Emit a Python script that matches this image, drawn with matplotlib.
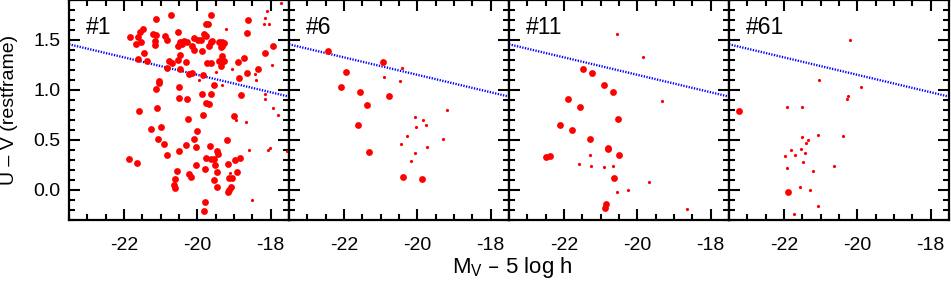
import matplotlib
matplotlib.use("Agg")
import matplotlib.pyplot as plt
from matplotlib.ticker import MultipleLocator

plt.rcParams["font.family"] = ["Liberation Sans", "DejaVu Sans"]
plt.rcParams["axes.unicode_minus"] = False

# ── data ─────────────────────────────────────────────────────────────────────
panel_labels = ["#1", "#6", "#11", "#61"]

# cut line: U-V at the two x-limits
line_x = [-23.5, -17.5]
line_y = [1.457, 0.934]

# panel #1
p1_big_x = [-21.83, -21.62, -21.57, -21.47, -21.66, -21.55, -21.45, -21.62, -21.37, -21.13,
            -21.20, -21.14, -21.15, -21.16, -20.87, -20.82, -20.73, -20.84, -20.77, -20.68,
            -20.53, -20.48, -20.53, -20.53, -21.05, -21.04, -21.14, -20.50, -20.50,
            -19.64, -19.76, -19.70, -20.09, -19.97, -19.90, -19.82, -19.77, -20.36, -20.41,
            -20.27, -20.14, -20.09, -19.86, -19.64, -19.68, -19.59, -19.41, -19.34, -19.27,
            -19.32, -19.36, -18.62, -18.64, -17.94, -18.15, -18.34, -18.65, -18.86, -18.88,
            -18.73, -18.82, -19.32, -19.27, -19.41, -19.36, -19.64, -19.73, -19.55, -19.85,
            -20.23, -20.14, -20.47, -20.27, -19.86, -19.64, -19.77, -19.68, -20.48, -20.32,
            -21.60, -21.09, -21.26, -20.98, -21.07, -20.91, -20.83, -20.51, -21.87, -21.65,
            -20.55, -20.62, -20.64, -20.60,
            -20.26, -19.85, -19.00, -20.01, -20.09, -20.32, -20.05, -19.66, -19.20, -19.46,
            -19.43, -19.76, -19.64, -19.55, -18.83, -18.98, -19.51, -19.16, -20.03, -19.78,
            -20.23, -20.18, -19.46, -18.92, -19.14, -19.06, -19.55, -19.47, -19.09, -19.16,
            -19.15, -19.78, -19.83]
p1_big_y = [1.53, 1.53, 1.58, 1.61, 1.46, 1.48, 1.37, 1.31, 1.29, 1.71,
            1.56, 1.55, 1.49, 1.45, 1.54, 1.50, 1.75, 1.22, 1.29, 1.27,
            1.58, 1.48, 1.44, 1.30, 1.09, 1.07, 1.01, 1.03, 0.92,
            1.75, 1.66, 1.66, 1.52, 1.50, 1.50, 1.56, 1.54, 1.49, 1.46,
            1.48, 1.44, 1.40, 1.39, 1.48, 1.44, 1.49, 1.48, 1.48, 1.47,
            1.44, 1.43, 1.70, 1.57, 1.44, 1.37, 1.21, 1.17, 1.12, 1.28,
            1.32, 0.95, 1.34, 1.29, 1.29, 1.24, 1.27, 1.27, 1.05, 1.15,
            1.16, 1.17, 1.21, 0.91, 0.96, 0.96, 0.87, 0.86, 1.35, 1.28,
            0.79, 0.82, 0.61, 0.63, 0.51, 0.46, 0.35, 0.39, 0.31, 0.27,
            0.19, 0.11, 0.05, 0.02,
            0.71, 0.75, 0.74, 0.59, 0.51, 0.45, 0.43, 0.44, 0.50, 0.39,
            0.36, 0.32, 0.31, 0.31, 0.32, 0.30, 0.25, 0.26, 0.25, 0.21,
            0.16, 0.13, 0.18, 0.18, 0.12, 0.12, 0.10, 0.03, 0.03, -0.02,
            0.00, -0.12, -0.21]
p1_small_x = [-19.21, -18.09, -18.15, -18.17, -18.05, -17.73, -19.05, -18.43, -18.41, -18.15,
              -18.15, -17.93, -19.48, -19.34, -19.95, -18.94, -18.68, -17.81, -18.59, -18.06,
              -18.03, -17.55, -19.11, -18.52, -17.97]
p1_small_y = [1.61, 1.79, 1.72, 1.66, 1.66, 1.87, 1.21, 1.16, 1.10, 0.96,
              0.91, 0.82, 1.18, 1.05, 1.10, 0.70, 0.68, 0.75, 0.40, 0.40,
              0.42, 0.39, 0.17, -0.10, 1.25]

# panel #6
p6_big_x = [-22.44, -20.94, -21.94, -22.09, -21.57, -20.78, -21.36, -21.63, -21.32, -20.39, -19.87]
p6_big_y = [1.39, 1.28, 1.18, 1.03, 0.98, 0.94, 0.85, 0.65, 0.38, 0.13, 0.11]
p6_small_x = [-20.41, -20.90, -20.47, -19.18, -20.05, -19.85, -20.03, -19.77, -20.27, -19.30,
              -20.44, -19.73, -20.05, -20.18]
p6_small_y = [1.22, 1.13, 1.09, 0.80, 0.73, 0.70, 0.63, 0.65, 0.54, 0.51,
              0.46, 0.43, 0.37, 0.29]

# panel #11
p11_big_x = [-21.48, -21.23, -20.92, -20.66, -21.90, -21.55, -20.52, -22.10, -21.79, -21.30,
             -20.81, -20.79, -20.50, -22.50, -22.39, -20.63, -20.86, -20.89]
p11_big_y = [1.21, 1.17, 1.05, 0.98, 0.91, 0.83, 0.71, 0.65, 0.60, 0.51,
             0.41, 0.42, 0.35, 0.33, 0.34, 0.12, -0.14, -0.18]
p11_small_x = [-20.55, -19.85, -19.32, -21.29, -21.60, -21.27, -20.92, -20.66, -19.67, -20.26,
               -20.55, -18.64]
p11_small_y = [1.56, 1.33, 0.89, 0.35, 0.26, 0.24, 0.23, 0.24, 0.08, 0.00,
               -0.02, -0.19]

# panel #61
p61_big_x = [-23.23, -21.90]
p61_big_y = [0.79, -0.02]
p61_small_x = [-20.20, -21.05, -19.91, -20.25, -20.29, -21.93, -21.50, -21.52, -21.06, -20.38,
               -21.35, -21.39, -21.53, -21.82, -21.44, -21.98, -21.71, -21.47, -20.63, -21.93,
               -21.22, -21.55, -21.30, -21.06, -21.74]
p61_small_y = [1.50, 1.10, 1.03, 0.94, 0.91, 0.83, 0.83, 0.53, 0.55, 0.54,
               0.50, 0.47, 0.41, 0.40, 0.37, 0.34, 0.35, 0.28, 0.24, 0.22,
               0.19, 0.03, 0.00, -0.16, -0.24]

panels = [
    (p1_big_x, p1_big_y, p1_small_x, p1_small_y),
    (p6_big_x, p6_big_y, p6_small_x, p6_small_y),
    (p11_big_x, p11_big_y, p11_small_x, p11_small_y),
    (p61_big_x, p61_big_y, p61_small_x, p61_small_y),
]

# ── figure ─────────────────────────────────────────────────────────────────────
W, H = 951, 295
fig = plt.figure(figsize=(W / 100, H / 100), dpi=100)

for i, (bx, by, sx, sy) in enumerate(panels):
    left = 69 + 220 * i
    ax = fig.add_axes([left / W, 75 / H, 220 / W, 220 / H])
    ax.plot(line_x, line_y, color="blue", lw=1.7, dashes=(0.55, 0.6), zorder=2)
    ax.plot(bx, by, "o", color="red", ms=4.9, mec="none", zorder=3)
    ax.plot(sx, sy, "o", color="red", ms=2.3, mec="none", zorder=3)
    ax.set_xlim(-23.5, -17.5)
    ax.set_ylim(-0.3, 1.9)
    ax.xaxis.set_major_locator(MultipleLocator(2))
    ax.xaxis.set_minor_locator(MultipleLocator(0.5))
    ax.yaxis.set_major_locator(MultipleLocator(0.5))
    ax.yaxis.set_minor_locator(MultipleLocator(0.1))
    ax.tick_params(which="both", direction="in", top=True, right=True, width=1.5)
    ax.tick_params(which="major", length=8)
    ax.tick_params(which="minor", length=4.3)
    ax.tick_params(axis="x", which="major", pad=12, labelsize=14)
    ax.tick_params(axis="y", which="major", pad=6, labelsize=14)
    ax.set_xticks([-22, -20, -18])
    ax.set_xticklabels(["-22", "-20", "-18"])
    if i == 0:
        ax.set_yticks([0.0, 0.5, 1.0, 1.5])
        ax.set_yticklabels(["0.0", "0.5", "1.0", "1.5"])
    else:
        ax.set_yticklabels([])
    for sp in ax.spines.values():
        sp.set_linewidth(1.6)
    ax.text(0.075, 0.877, panel_labels[i], transform=ax.transAxes,
            fontsize=16.5, va="center", ha="left")

fig.text(9.5 / W, 1 - 110 / H, "U – V (restframe)", rotation=90,
         fontsize=14, va="center", ha="center")
fig.text(512 / W, 1 - 268 / H, r"M$_\mathregular{V}$ – 5 log h",
         fontsize=16, va="center", ha="center")

fig.savefig("out.png", dpi=100)
